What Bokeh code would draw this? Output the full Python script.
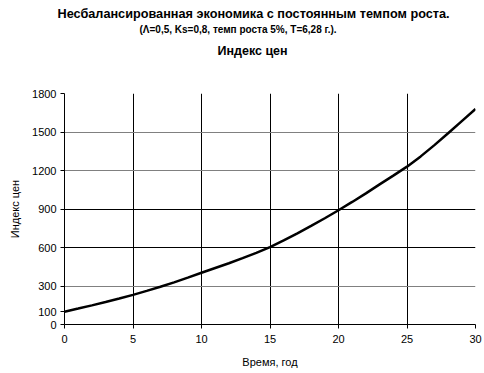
from bokeh.plotting import figure
from bokeh.models import FixedTicker, Range1d, Title, Grid
from bokeh.embed import file_html
from bokeh.resources import INLINE

# Data
years = list(range(0, 31))
price_index = [100, 124, 149, 175, 202, 231, 262, 294, 328, 365, 403,
               440, 477, 517, 558, 603, 655, 710, 768, 828, 890,
               955, 1022, 1092, 1160, 1230, 1310, 1398, 1490, 1585, 1680]
x_ticks = [0, 5, 10, 15, 20, 25, 30]
y_ticks = [0, 100, 300, 600, 900, 1200, 1500, 1800]
y_grid_dark = [600, 900]
y_grid_grey = [300, 1200, 1500, 1800]

title_lines = ["Несбалансированная экономика с постоянным темпом роста.",
               "(Λ=0,5, Ks=0,8, темп роста 5%, T=6,28 г.).",
               "Индекс цен"]
x_label = "Время, год"
y_label = "Индекс цен"

FONT = "Liberation Sans"

p = figure(width=484, height=373, output_backend="svg", toolbar_location=None,
           x_range=Range1d(0, 30), y_range=Range1d(0, 1800),
           min_border_left=64, min_border_right=9, min_border_top=93,
           min_border_bottom=49)
p.outline_line_color = None
p.background_fill_color = "white"
p.border_fill_color = "white"

p.line(years, price_index, line_color="black", line_width=2.5)

for ax, ticks in ((p.xaxis, x_ticks), (p.yaxis, y_ticks)):
    ax.ticker = FixedTicker(ticks=ticks)
    ax.axis_line_color = "black"
    ax.major_tick_line_color = "black"
    ax.major_tick_out = 4
    ax.major_tick_in = 0
    ax.minor_tick_line_color = None
    ax.major_label_text_font = FONT
    ax.major_label_text_font_size = "11px"
    ax.major_label_text_color = "black"
    ax.axis_label_text_font = FONT
    ax.axis_label_text_font_size = "11px"
    ax.axis_label_text_font_style = "normal"
    ax.axis_label_text_color = "black"

p.xaxis.axis_label = x_label
p.yaxis.axis_label = y_label
p.xaxis.major_label_standoff = 6
p.yaxis.major_label_standoff = 4
p.xaxis.axis_label_standoff = 10
p.yaxis.axis_label_standoff = 8

p.xgrid.ticker = FixedTicker(ticks=x_ticks)
p.xgrid.grid_line_color = "black"
p.ygrid.ticker = FixedTicker(ticks=y_grid_dark)
p.ygrid.grid_line_color = "black"
p.add_layout(Grid(dimension=1, ticker=FixedTicker(ticks=y_grid_grey),
                  grid_line_color="#808080", grid_line_width=1))

# Titles: p.title is the outermost line; added titles stack toward the frame
def style_title(t, size, offset, standoff):
    t.align = "left"
    t.offset = offset
    t.text_font = FONT
    t.text_font_size = size
    t.text_font_style = "bold"
    t.text_color = "black"
    t.standoff = standoff

p.title.text = title_lines[0]
style_title(p.title, "12.7px", -7, 2)

spacer = Title(text=" ")
style_title(spacer, "1px", 0, 27)
p.add_layout(spacer, "above")

t3 = Title(text=title_lines[2])
style_title(t3, "12.5px", 153, 12)
p.add_layout(t3, "above")

t2 = Title(text=title_lines[1])
style_title(t2, "10px", 75, 1)
p.add_layout(t2, "above")

open("out.html", "w").write(file_html(p, INLINE))
